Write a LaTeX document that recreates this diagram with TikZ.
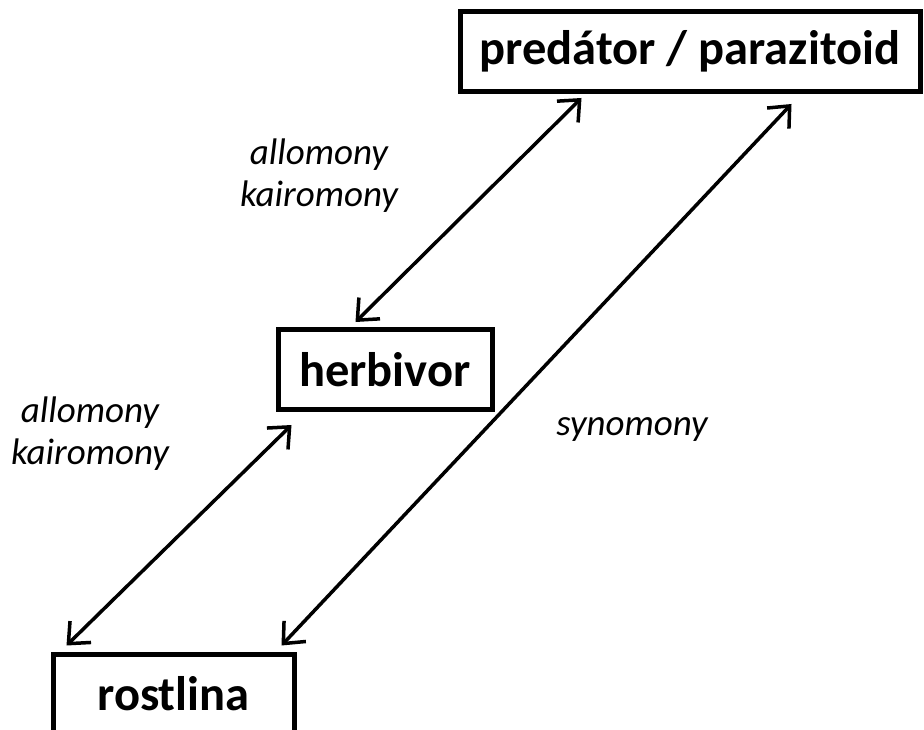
\documentclass[tikz,border=0pt]{standalone}
\usepackage{fontspec}
\setmainfont{Carlito}
\usetikzlibrary{arrows.meta,positioning}
\tikzset{
  box/.style={draw,line width=5pt,minimum height=80pt,inner sep=0pt,font=\fontsize{48.5}{52}\selectfont\bfseries},
  lbl/.style={align=center,font=\fontsize{37}{42}\selectfont\itshape},
  barb/.tip={Straight Barb[length=17pt,width=30pt,line width=3.5pt]},
  link/.style={barb-barb,line width=3.5pt}
}
\begin{document}
\begin{tikzpicture}[x=1pt,y=-1pt]
  \useasboundingbox (0,0) rectangle (924,730);
  \node[box,minimum width=460pt] (pred) at (690,51.5) {predátor / parazitoid};
  \node[box,minimum width=214pt] (herb) at (385,369.5) {herbivor};
  \node[box,minimum width=241pt] (rost) at (173.5,694) {rostlina};
  \coordinate (predA) at ([xshift=124pt,yshift=-4pt]pred.south west);
  \coordinate (predB) at ([xshift=334pt,yshift=-10pt]pred.south west);
  \coordinate (herbA) at ([xshift=80pt,yshift=5pt]herb.north west);
  \coordinate (herbB) at ([xshift=16pt,yshift=-13pt]herb.south west);
  \coordinate (rostA) at ([xshift=16pt,yshift=6pt]rost.north west);
  \coordinate (rostB) at ([xshift=-15pt,yshift=6pt]rost.north east);
  \draw[link] (herbA) -- (predA);
  \draw[link] (rostB) -- (predB);
  \draw[link] (rostA) -- (herbB);
  \node[lbl] (kairo1) at (319,176) {allomony\\kairomony};
  \node[lbl] (kairo2) at (90,434) {allomony\\kairomony};
  \node[lbl] (syno) at (632,430) {synomony};
\end{tikzpicture}
\end{document}
